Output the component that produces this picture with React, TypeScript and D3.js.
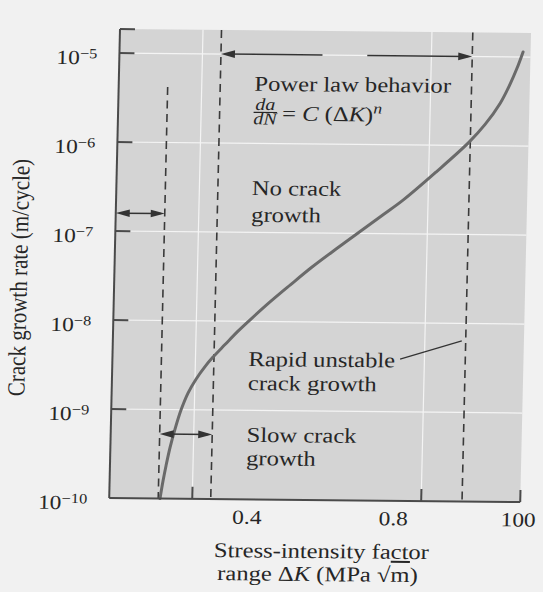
import React from 'react';
import * as d3 from 'd3';

// ---------- data ----------
// crack-growth curve: position along ΔK axis (fraction of axis length) and da/dN (m/cycle)
const curveDK = [0.1236, 0.1299, 0.1364, 0.1451, 0.1562, 0.1697, 0.1858, 0.2045, 0.2257, 0.2446, 0.2731, 0.304, 0.3374, 0.3802, 0.428, 0.4805, 0.5379, 0.5953, 0.6479, 0.6981, 0.7769, 0.8555, 0.8934, 0.9287, 0.952, 0.9681, 0.9818];
const curveRate = [1.0e-10, 1.57e-10, 2.34e-10, 3.74e-10, 6.04e-10, 9.9e-10, 1.54e-9, 2.21e-9, 3.07e-9, 3.93e-9, 5.45e-9, 7.74e-9, 1.09e-8, 1.66e-8, 2.58e-8, 4.14e-8, 6.64e-8, 1.05e-7, 1.6e-7, 2.39e-7, 4.99e-7, 1.09e-6, 1.73e-6, 2.99e-6, 4.95e-6, 7.5e-6, 1.14e-5];

const yTickValues = [1e-5, 1e-6, 1e-7, 1e-8, 1e-9, 1e-10];
const yTickExponents = ['−5', '−6', '−7', '−8', '−9', '−10'];
const xTickValues = [0.202, 0.759, 1.0];
const xLabelValues = [0.336, 0.692, 0.996];
const xLabels = ['0.4', '0.8', '100'];

// dashed region boundaries: ΔK position and top rate of each line
const boundaryDK = [0.1192, 0.247, 0.8584];
const boundaryTop = [4.2e-6, 10 ** -4.73, 10 ** -4.73];

// arrows: [from ΔK, to ΔK, rate]
const arrowFrom = [0.247, 0.0, 0.1192];
const arrowTo = [0.8584, 0.1192, 0.247];
const arrowRate = [1e-5, 1.59e-7, 5.3e-10];
const powerArrowGap = [0.494, 0.603];

const yDomain = [1e-10, 10 ** -4.73];

// ---------- layout ----------
const W = 543;
const H = 592;
const L = 120, R = 531, T = 29, B = 498;
const SX = 1.17; // horizontal stretch of the scanned type
const FONT = '"Liberation Serif", "Times New Roman", serif';
const INK = '#262626';

const x = d3.scaleLinear().domain([0, 1]).range([L, R]);
const y = d3.scaleLog().domain(yDomain).range([B, T]);

function Txt({ tx, ty, size = 21, anchor = 'start', italic = false, children }: any) {
  return (
    <text
      transform={`translate(${tx},${ty}) scale(${SX},1)`}
      fontSize={size}
      textAnchor={anchor}
      fontStyle={italic ? 'italic' : 'normal'}
      fill={INK}
    >
      {children}
    </text>
  );
}

function head(xt: number, yt: number, dir: number) {
  const len = 14, hw = 3.8;
  return `M${xt},${yt} L${xt - dir * len},${yt - hw} L${xt - dir * len},${yt + hw} Z`;
}

export default function App() {
  const line = d3
    .line<number>()
    .x((_, i) => x(curveDK[i]))
    .y((_, i) => y(curveRate[i]))
    .curve(d3.curveCatmullRom.alpha(0.5));
  const curvePath = line(curveDK) || '';

  const grid = yTickValues.filter((v) => v > yDomain[0]);

  return (
    <svg
      width={W}
      height={H}
      style={{
        position: 'absolute',
        left: 0,
        top: 0,
        fontFamily: FONT,
        textRendering: 'geometricPrecision',
        fontKerning: 'none',
        fontVariantLigatures: 'none',
      }}
    >
      <rect x={0} y={0} width={W} height={H} fill="#f1f1f1" />
      <g transform="matrix(1,0.0098,-0.023,1,0.667,-1.176)">
        {/* plot area */}
        <rect x={L} y={T} width={R - L} height={B - T} fill="#d4d4d4" />
        {/* white grid */}
        {grid.map((v, i) => (
          <line key={'gy' + i} x1={L} x2={R} y1={y(v)} y2={y(v)} stroke="#f4f4f4" strokeWidth={1.2} />
        ))}
        {xTickValues.slice(0, 2).map((v, i) => (
          <line key={'gx' + i} x1={x(v)} x2={x(v)} y1={T} y2={B} stroke="#f4f4f4" strokeWidth={1.2} />
        ))}

        {/* dashed boundaries */}
        {boundaryDK.map((v, i) => (
          <line
            key={'b' + i}
            x1={x(v)}
            x2={x(v)}
            y1={y(boundaryTop[i])}
            y2={B}
            stroke="#3a3a3a"
            strokeWidth={1.6}
            strokeDasharray="8 5.5"
          />
        ))}

        {/* curve */}
        <path d={curvePath} fill="none" stroke="#6a6a6a" strokeWidth={3} strokeLinecap="round" />

        {/* axes */}
        <line x1={L} x2={L} y1={T} y2={B} stroke="#4a4a4a" strokeWidth={2} />
        <line x1={L} x2={R} y1={B} y2={B} stroke="#4a4a4a" strokeWidth={2} />
        <line x1={L} x2={L + 15} y1={T} y2={T} stroke="#4a4a4a" strokeWidth={2} />
        {grid.map((v, i) => (
          <line key={'ty' + i} x1={L} x2={L + 15} y1={y(v)} y2={y(v)} stroke="#4a4a4a" strokeWidth={2} />
        ))}
        {xTickValues.map((v, i) => (
          <line key={'tx' + i} x1={x(v)} x2={x(v)} y1={B} y2={B - 12} stroke="#4a4a4a" strokeWidth={2} />
        ))}

        {/* y tick labels */}
        {yTickValues.map((v, i) => (
          <text
            key={'yl' + i}
            transform={`translate(98,${y(v) + 11.5}) scale(${SX},1)`}
            textAnchor="end"
            fontSize={20}
            fill={INK}
          >
            10
            <tspan dy={-6} fontSize={14}>
              {yTickExponents[i]}
            </tspan>
          </text>
        ))}

        {/* x tick labels */}
        {xLabels.map((s, i) => (
          <Txt key={'xl' + i} tx={x(xLabelValues[i])} ty={522.5} size={20} anchor="middle">
            {s}
          </Txt>
        ))}

        {/* arrows */}
        {arrowRate.map((r, i) => {
          const yy = y(r);
          const x1 = x(arrowFrom[i]);
          const x2 = x(arrowTo[i]);
          return (
            <g key={'ar' + i}>
              {i === 0 ? (
                <>
                  <line x1={x1 + 4} x2={x(powerArrowGap[0])} y1={yy} y2={yy} stroke="#333" strokeWidth={1.5} />
                  <line x1={x(powerArrowGap[1])} x2={x2 - 4} y1={yy} y2={yy} stroke="#333" strokeWidth={1.5} />
                </>
              ) : (
                <line x1={x1 + 4} x2={x2 - 4} y1={yy} y2={yy} stroke="#333" strokeWidth={1.5} />
              )}
              <path d={head(x1, yy, -1)} fill="#333" />
              <path d={head(x2, yy, 1)} fill="#333" />
            </g>
          );
        })}

        {/* annotations */}
        <Txt tx={255.7} ty={89.4}>Power law behavior</Txt>
        <Txt tx={267} ty={108.6} size={17} anchor="middle" italic>
          da
        </Txt>
        <line x1={255.5} x2={279} y1={111} y2={111} stroke={INK} strokeWidth={1.1} />
        <Txt tx={267} ty={123} size={17} anchor="middle" italic>
          dN
        </Txt>
        <text transform={`translate(284,119) scale(${SX},1)`} fontSize={21} fill={INK}>
          {'= '}
          <tspan fontStyle="italic">C</tspan>
          {' (Δ'}
          <tspan fontStyle="italic">K</tspan>
          {')'}
          <tspan fontStyle="italic" fontSize={15} dy={-8}>
            n
          </tspan>
        </text>

        <Txt tx={255.5} ty={193.7}>No crack</Txt>
        <Txt tx={255.5} ty={220.4}>growth</Txt>

        <Txt tx={256} ty={364.7}>Rapid unstable</Txt>
        <Txt tx={256} ty={388.7}>crack growth</Txt>
        <line x1={407.6} y1={356.3} x2={468.9} y2={337.4} stroke="#333" strokeWidth={1.2} />

        <Txt tx={256} ty={440.5}>Slow crack</Txt>
        <Txt tx={256} ty={463.8}>growth</Txt>

        {/* axis titles */}
        <Txt tx={333.4} ty={556} anchor="middle">Stress-intensity factor</Txt>
        <text transform={`translate(330,579) scale(${SX},1)`} fontSize={21} textAnchor="middle" fill={INK}>
          {'range Δ'}
          <tspan fontStyle="italic">K</tspan>
          {' (MPa √'}
          <tspan style={{ textDecoration: 'overline' }}>m</tspan>
          {')'}
        </text>
        <text
          transform={`translate(32.7,278.4) scale(${SX},1) rotate(-90)`}
          fontSize={21}
          textAnchor="middle"
          fill={INK}
        >
          Crack growth rate (m/cycle)
        </text>
      </g>
    </svg>
  );
}
